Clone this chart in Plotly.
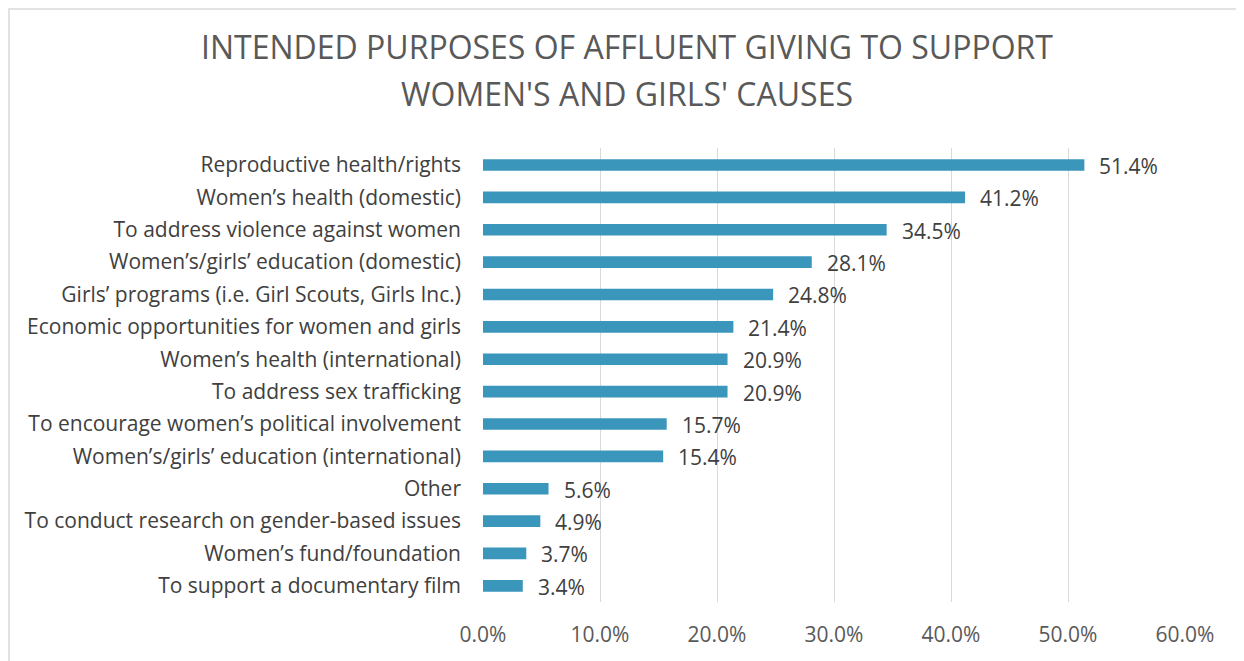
import plotly.graph_objects as go

categories = [
    "Reproductive health/rights",
    "Women’s health (domestic)",
    "To address violence against women",
    "Women’s/girls’ education (domestic)",
    "Girls’ programs (i.e. Girl Scouts, Girls Inc.)",
    "Economic opportunities for women and girls",
    "Women’s health (international)",
    "To address sex trafficking",
    "To encourage women’s political involvement",
    "Women’s/girls’ education (international)",
    "Other",
    "To conduct research on gender-based issues",
    "Women’s fund/foundation",
    "To support a documentary film",
]
values = [51.4, 41.2, 34.5, 28.1, 24.8, 21.4, 20.9, 20.9, 15.7, 15.4, 5.6, 4.9, 3.7, 3.4]
tick_vals = [0, 10, 20, 30, 40, 50, 60]
tick_text = ["0.0%", "10.0%", "20.0%", "30.0%", "40.0%", "50.0%", "60.0%"]
title_lines = ["INTENDED PURPOSES OF AFFLUENT GIVING TO SUPPORT", "WOMEN'S AND GIRLS' CAUSES"]

FONT = "Open Sans"
BAR = "#3A96BB"

fig = go.Figure(go.Bar(
    x=values, y=categories, orientation="h",
    marker=dict(color=BAR, line=dict(width=0)),
    hoverinfo="skip",
))

for c, v in zip(categories, values):
    fig.add_annotation(x=v, y=c, text=f"{v:.1f}%", showarrow=False,
                       xanchor="left", xshift=13, yshift=-1,
                       font=dict(family=FONT, size=21, color="#404040"))

# page body has an 8px margin: figure coords = screen coords - 8
OFF = 8
W, H = 1244, 661
L, R, T, B = 483 - OFF, W - (1185 - OFF), 148 - OFF, H - (602 - OFF)
pw, ph = W - L - R, H - T - B
def px2x(px): return (px - OFF - L) / pw
def py2y(py): return (H - B - (py - OFF)) / ph

for line, sy in zip(title_lines, [47, 93]):
    fig.add_annotation(xref="paper", yref="paper", x=px2x(627), y=py2y(sy),
                       xanchor="center", yanchor="middle", text=line, showarrow=False,
                       font=dict(family=FONT, size=32, color="#595959"))

fig.add_shape(type="rect", xref="paper", yref="paper",
              x0=px2x(9), x1=px2x(1242), y0=py2y(9), y1=py2y(680),
              line=dict(color="#D9D9D9", width=1.5), fillcolor="rgba(0,0,0,0)", layer="below")

fig.update_layout(
    width=W, height=H,
    margin=dict(l=L, r=R, t=T, b=B),
    paper_bgcolor="white", plot_bgcolor="white",
    bargap=0.64,
    showlegend=False,
    xaxis=dict(range=[0, 60], tickvals=tick_vals, ticktext=tick_text,
               showgrid=True, gridcolor="#D9D9D9", gridwidth=1.3,
               zeroline=False, showline=False, ticks="",
               ticklabelstandoff=18,
               tickfont=dict(family=FONT, size=21, color="#595959")),
    yaxis=dict(autorange="reversed", showgrid=False, zeroline=False,
               showline=False, ticks="", ticklabelstandoff=21,
               tickfont=dict(family=FONT, size=21, color="#404040")),
)

fig.write_html("out.html")
